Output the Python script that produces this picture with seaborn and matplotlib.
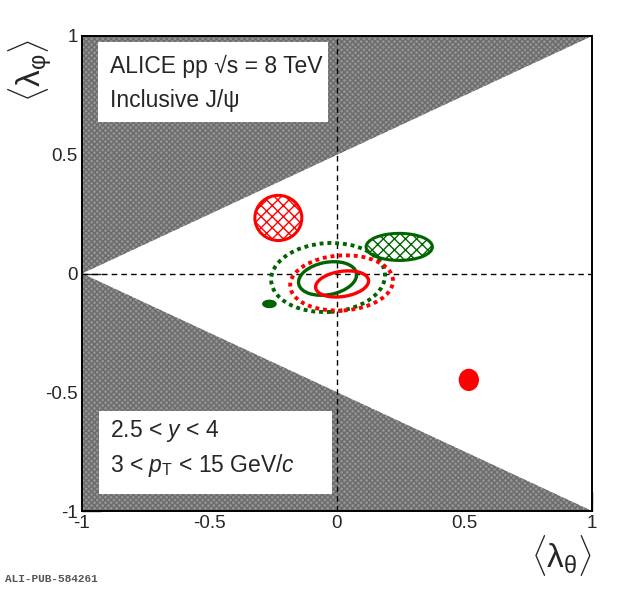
import numpy as np
import pandas as pd
import matplotlib
matplotlib.use("Agg")
import matplotlib.pyplot as plt
from matplotlib.patches import Ellipse, Rectangle
from matplotlib.ticker import MultipleLocator
import seaborn as sns

# ---------------- data ----------------
# Ellipse contours: (x-centre, y-centre, full width, full height, angle deg)
ell_names = ["red_hatched", "green_hatched", "green_solid", "red_solid",
             "green_dotted", "red_dotted", "green_filled", "red_filled"]
ell_x = [-0.23, 0.244, -0.037, 0.020, -0.035, 0.018, -0.265, 0.517]
ell_y = [0.234, 0.112, -0.021, -0.044, -0.017, -0.040, -0.128, -0.448]
ell_w = [0.184, 0.260, 0.231, 0.210, 0.447, 0.404, 0.052, 0.074]
ell_h = [0.190, 0.114, 0.136, 0.106, 0.290, 0.232, 0.030, 0.088]
ell_ang = [0, 0, 12, 9.5, 4, 4, 0, 0]
ell_color = ["red", "green", "green", "red", "green", "red", "green", "red"]
ell_kind = ["hatch", "hatch", "solid", "solid", "dotted", "dotted", "fill", "fill"]

bound_x = [-1.0, 1.0]
x_ticks = [-1, -0.5, 0, 0.5, 1]
x_tick_labels = ["-1", "-0.5", "0", "0.5", "1"]
y_ticks = [-1, -0.5, 0, 0.5, 1]
y_tick_labels = ["-1", "-0.5", "0", "0.5", "1"]

RED = "#ff0000"
GREEN = "#006400"
cmap = {"red": RED, "green": GREEN}

sns.set_style("white")
plt.rcParams["font.family"] = ["Liberation Sans", "DejaVu Sans"]
plt.rcParams["mathtext.fontset"] = "custom"
plt.rcParams["mathtext.rm"] = "Liberation Sans"
plt.rcParams["mathtext.it"] = "Liberation Sans:italic"
plt.rcParams["mathtext.sf"] = "Liberation Sans"
plt.rcParams["hatch.linewidth"] = 1.0

fig = plt.figure(figsize=(6.2, 5.89), dpi=100)
ax = fig.add_axes([82 / 620, 1 - 511 / 589, 510 / 620, 475 / 589])
ax.set_xlim(-1, 1)
ax.set_ylim(-1, 1)

# forbidden regions (|lambda_phi| > (1+lambda_theta)/2)
bx = np.array(bound_x)
up = (1 + bx) / 2
ax.fill_between(bx, up, 1, facecolor="#939393", edgecolor="#6c6c6c",
                hatch="xxxxxx", linewidth=0, zorder=1)
ax.fill_between(bx, -1, -up, facecolor="#939393", edgecolor="#6c6c6c",
                hatch="xxxxxx", linewidth=0, zorder=1)

# dashed zero lines via seaborn
zl = pd.DataFrame({"x": [-1, 1], "y": [0, 0]})
sns.lineplot(data=zl, x="x", y="y", ax=ax, color="black", lw=1,
             linestyle=(0, (4, 3)), estimator=None, zorder=2)
zv = pd.DataFrame({"x": [0, 0], "y": [-1, 1]})
sns.lineplot(data=zv, x="x", y="y", ax=ax, color="black", lw=1,
             linestyle=(0, (4, 3)), sort=False, estimator=None, zorder=2)

# ellipses
for x, y, w, h, a, c, k in zip(ell_x, ell_y, ell_w, ell_h, ell_ang, ell_color, ell_kind):
    col = cmap[c]
    if k == "hatch":
        e = Ellipse((x, y), w, h, angle=a, facecolor="white", edgecolor=col,
                    hatch="xxx", lw=2.2, zorder=4)
    elif k == "solid":
        e = Ellipse((x, y), w, h, angle=a, facecolor="none", edgecolor=col,
                    lw=2.4, zorder=5)
    elif k == "dotted":
        e = Ellipse((x, y), w, h, angle=a, facecolor="none", edgecolor=col,
                    lw=2.8, linestyle=(0, (1.0, 1.0)), zorder=4)
    else:
        e = Ellipse((x, y), w, h, angle=a, facecolor=col, edgecolor=col,
                    lw=1, zorder=4)
    ax.add_patch(e)

# text boxes
ax.add_patch(Rectangle((-0.937, 0.637), 0.902, 0.338, facecolor="white",
                       edgecolor="none", zorder=6))
ax.add_patch(Rectangle((-0.933, -0.928), 0.913, 0.350, facecolor="white",
                       edgecolor="none", zorder=6))
FS = 16.5
ax.text(-0.89, 0.845, "ALICE pp \u221As = 8 TeV", fontsize=FS, zorder=7, va="baseline")
ax.text(-0.89, 0.70, "Inclusive J/\u03c8", fontsize=FS, zorder=7, va="baseline")
ax.text(-0.89, -0.69, r"2.5 < $y$ < 4", fontsize=FS, zorder=7, va="baseline")
ax.text(-0.89, -0.835, r"3 < $p_{\mathrm{T}}$ < 15 GeV/$c$", fontsize=FS, zorder=7,
        va="baseline")

# axes styling
for s in ax.spines.values():
    s.set_color("black")
    s.set_linewidth(1.4)
    s.set_zorder(8)
ax.set_xticks(x_ticks)
ax.set_xticklabels(x_tick_labels)
ax.set_yticks(y_ticks)
ax.set_yticklabels(y_tick_labels)
ax.xaxis.set_minor_locator(MultipleLocator(0.1))
ax.yaxis.set_minor_locator(MultipleLocator(0.1))
ax.tick_params(which="major", direction="in", length=14, width=1, labelsize=13.5,
               bottom=True, left=True, top=False, right=False, pad=3)
ax.tick_params(which="minor", direction="in", length=7, width=1,
               bottom=True, left=True, top=False, right=False)
ax.set_xlabel("")
ax.set_ylabel("")

fig.text(562 / 620, 1 - 556 / 589, r"$\langle\mathrm{\lambda}_{\mathrm{\theta}}\rangle$",
         fontsize=24, ha="center", va="center")
fig.text(30 / 620, 1 - 70 / 589, r"$\langle\mathrm{\lambda}_{\mathrm{\varphi}}\rangle$",
         fontsize=24, ha="center", va="center", rotation=90)
fig.text(5 / 620, 1 - 579 / 589, "ALI-PUB-584261", fontsize=8, family="Liberation Mono",
         weight="bold", color="#555555", va="center")

fig.savefig("out.png", dpi=100)
